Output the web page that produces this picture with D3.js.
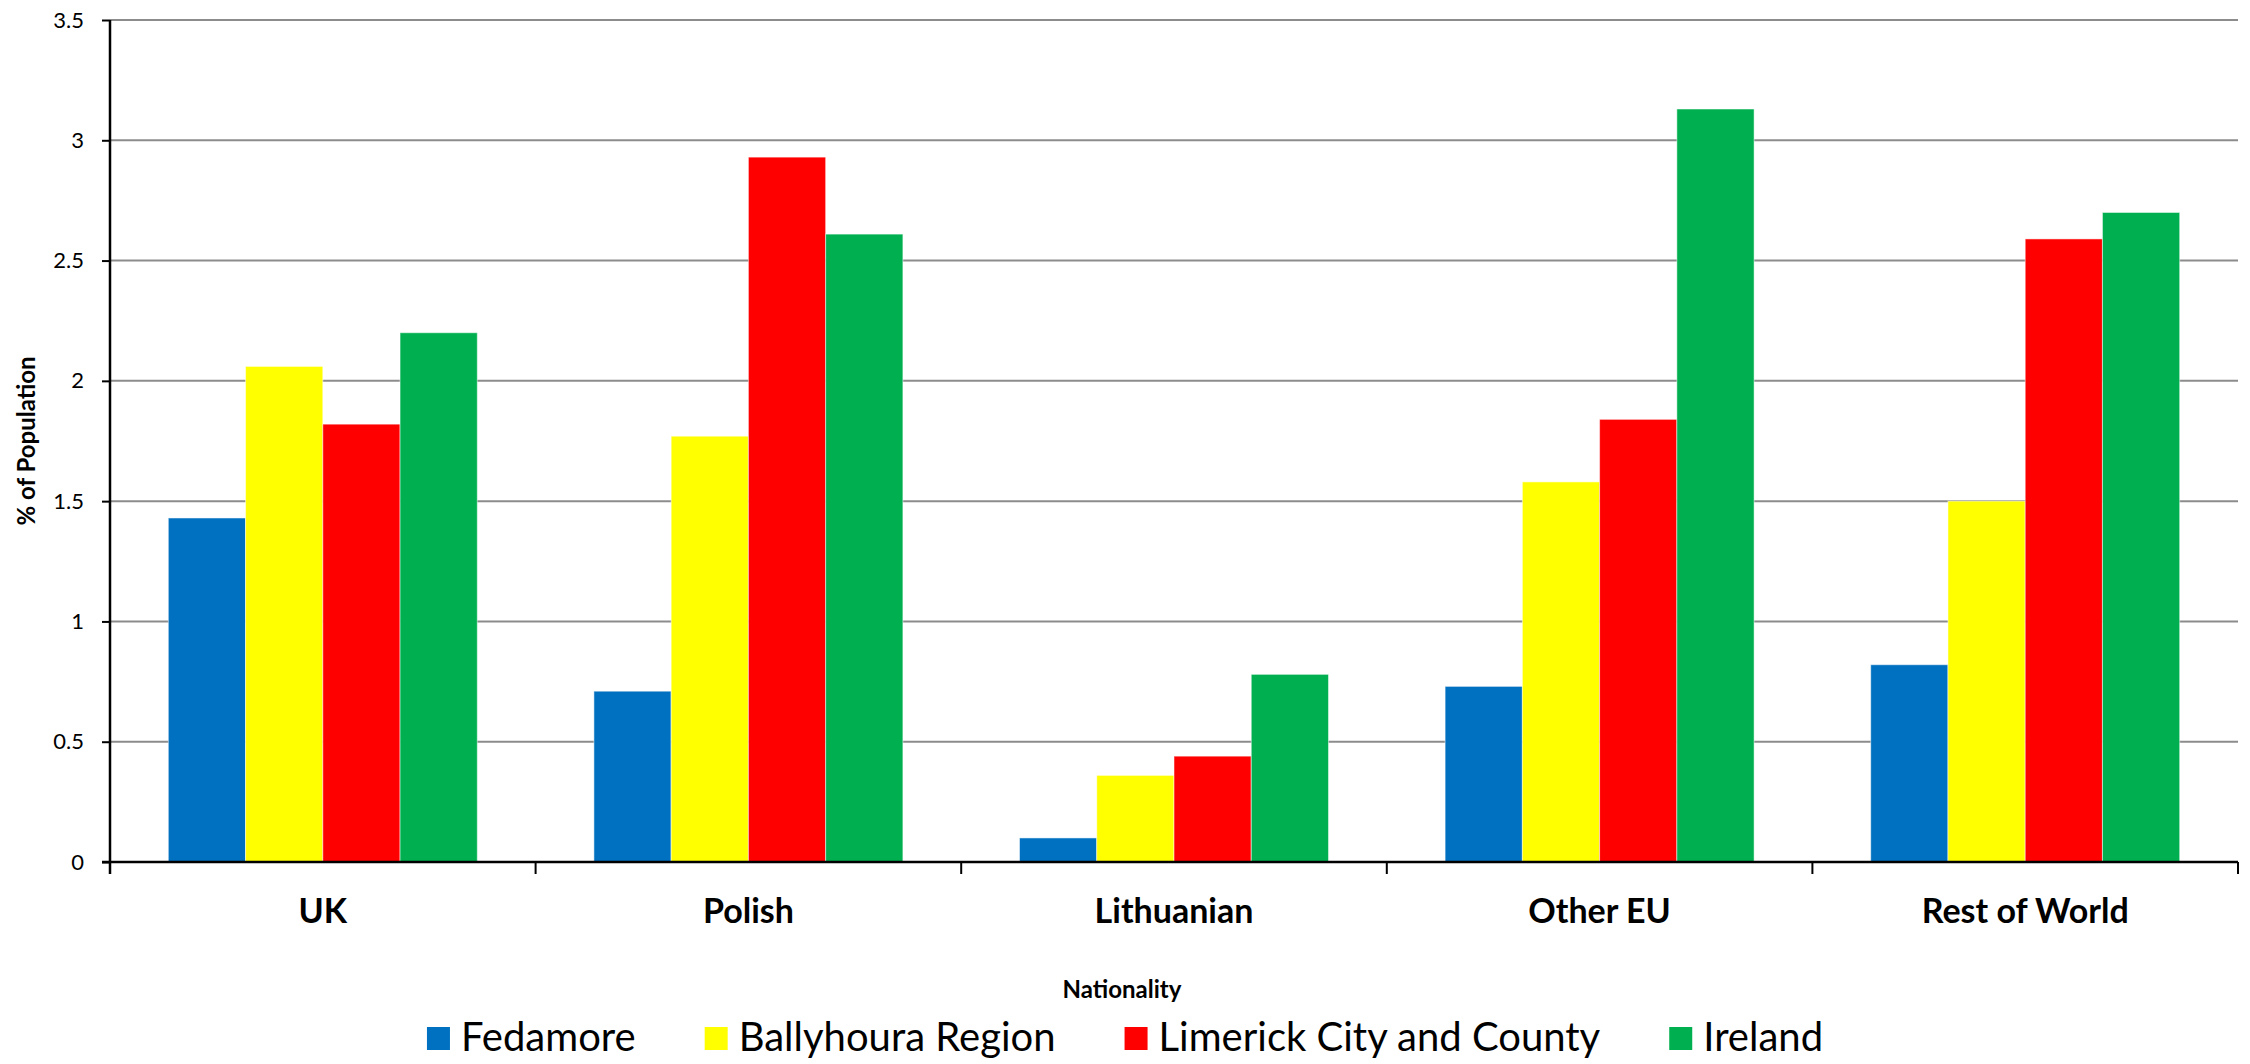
<!DOCTYPE html>
<html>
<head>
<meta charset="utf-8">
<script src="https://cdn.jsdelivr.net/npm/d3@7"></script>
<style>
  body { margin: 0; background: #fff; }
  svg { display: block; font-family: Lato, 'Open Sans', sans-serif; }
  .tick text { fill: #000; }
</style>
</head>
<body>
<svg width="2250" height="1064"></svg>
<script>
// values (% of population)
const categories = ['UK', 'Polish', 'Lithuanian', 'Other EU', 'Rest of World'];
const seriesNames = ['Fedamore', 'Ballyhoura Region', 'Limerick City and County', 'Ireland'];
const fedamore = [1.43, 0.71, 0.10, 0.73, 0.82];
const ballyhoura = [2.06, 1.77, 0.36, 1.58, 1.50];
const limerick = [1.82, 2.93, 0.44, 1.84, 2.59];
const ireland = [2.20, 2.61, 0.78, 3.13, 2.70];
const yTicks = [0, 0.5, 1, 1.5, 2, 2.5, 3, 3.5];
const colors = ['#0070C0', '#FFFF00', '#FF0000', '#00B050'];

const seriesValues = [fedamore, ballyhoura, limerick, ireland];

const svg = d3.select('svg');
const width = +svg.attr('width');
const height = +svg.attr('height');

const margin = { top: 20, right: 12, bottom: 202, left: 110 };
const innerWidth = width - margin.left - margin.right;
const innerHeight = height - margin.top - margin.bottom;

const data = categories.map((c, i) => ({
    category: c,
    values: seriesNames.map((s, j) => ({ series: s, index: j, value: seriesValues[j][i] }))
}));

const x0 = d3.scaleBand()
    .domain(categories)
    .range([0, innerWidth])
    .paddingInner(0.274)
    .paddingOuter(0.137);

const x1 = d3.scaleBand()
    .domain(seriesNames)
    .range([0, x0.bandwidth()]);

const yScale = d3.scaleLinear()
    .domain([0, 3.5])
    .range([innerHeight, 0]);

const g = svg.append('g')
    .attr('transform', `translate(${margin.left},${margin.top})`);

// gridlines
g.append('g')
    .selectAll('line').data(yTicks.filter(d => d > 0))
    .enter().append('line')
    .attr('x1', 0)
    .attr('x2', innerWidth)
    .attr('y1', d => yScale(d))
    .attr('y2', d => yScale(d))
    .attr('stroke', '#8c8c8c')
    .attr('stroke-width', 2);

// bars
const groups = g.selectAll('.group').data(data)
    .enter().append('g')
    .attr('class', 'group')
    .attr('transform', d => `translate(${x0(d.category)},0)`);

groups.selectAll('rect').data(d => d.values)
    .enter().append('rect')
    .attr('x', d => x1(d.series))
    .attr('y', d => yScale(d.value))
    .attr('width', x1.bandwidth())
    .attr('height', d => innerHeight - yScale(d.value))
    .attr('fill', d => colors[d.index])
    .attr('stroke', '#ffffff')
    .attr('stroke-opacity', 0.5)
    .attr('stroke-width', 1);

// y axis
const yAxis = d3.axisLeft(yScale)
    .tickValues(yTicks)
    .tickFormat(d => d)
    .tickSize(8)
    .tickPadding(18);

const yAxisG = g.append('g').call(yAxis);
yAxisG.select('.domain').attr('stroke', '#000').attr('stroke-width', 2.5).attr('d', `M0,0V${innerHeight + 12}`);
yAxisG.selectAll('.tick line').attr('stroke', '#000').attr('stroke-width', 2);
yAxisG.selectAll('.tick text').attr('font-size', 22).attr('font-family', 'Lato, sans-serif');

svg.append('text')
    .attr('class', 'axis-label')
    .attr('transform', 'translate(35,441) rotate(-90)')
    .attr('fill', 'black')
    .attr('text-anchor', 'middle')
    .attr('font-size', 24)
    .attr('font-weight', 'bold')
    .text('% of Population');

// x axis
const boundaries = categories.map(c => x0(c) - x0.step() * x0.paddingInner() / 2);
boundaries.push(innerWidth);

const xAxisG = g.append('g')
    .attr('transform', `translate(0,${innerHeight})`);

xAxisG.append('line')
    .attr('x1', -8)
    .attr('x2', innerWidth)
    .attr('stroke', '#000')
    .attr('stroke-width', 2.5);

xAxisG.selectAll('.xtick').data(boundaries.slice(1))
    .enter().append('line')
    .attr('class', 'xtick')
    .attr('x1', d => d)
    .attr('x2', d => d)
    .attr('y1', 0)
    .attr('y2', 12)
    .attr('stroke', '#000')
    .attr('stroke-width', 2);

xAxisG.selectAll('.xlabel').data(categories)
    .enter().append('text')
    .attr('class', 'xlabel')
    .attr('x', d => x0(d) + x0.bandwidth() / 2)
    .attr('y', 61)
    .attr('text-anchor', 'middle')
    .attr('font-size', 34)
    .attr('font-weight', 'bold')
    .text(d => d);

svg.append('text')
    .attr('class', 'axis-label')
    .attr('x', 1122)
    .attr('y', 998)
    .attr('text-anchor', 'middle')
    .attr('font-size', 24)
    .attr('font-weight', 'bold')
    .text('Nationality');

// legend
const legend = svg.append('g');
const items = legend.selectAll('.item').data(seriesNames)
    .enter().append('g')
    .attr('class', 'item');

items.append('rect')
    .attr('width', 23)
    .attr('height', 23)
    .attr('y', -24)
    .attr('fill', (d, i) => colors[i]);

items.append('text')
    .attr('x', 34)
    .attr('y', 0)
    .attr('font-size', 40)
    .text(d => d);

const spacing = 69;
let xPos = 0;
items.each(function() {
    const item = d3.select(this);
    item.attr('transform', `translate(${xPos},0)`);
    xPos += 34 + item.select('text').node().getComputedTextLength() + spacing;
});
const legendWidth = xPos - spacing;
legend.attr('transform', `translate(${1125 - legendWidth / 2},1051)`);
</script>
</body>
</html>
